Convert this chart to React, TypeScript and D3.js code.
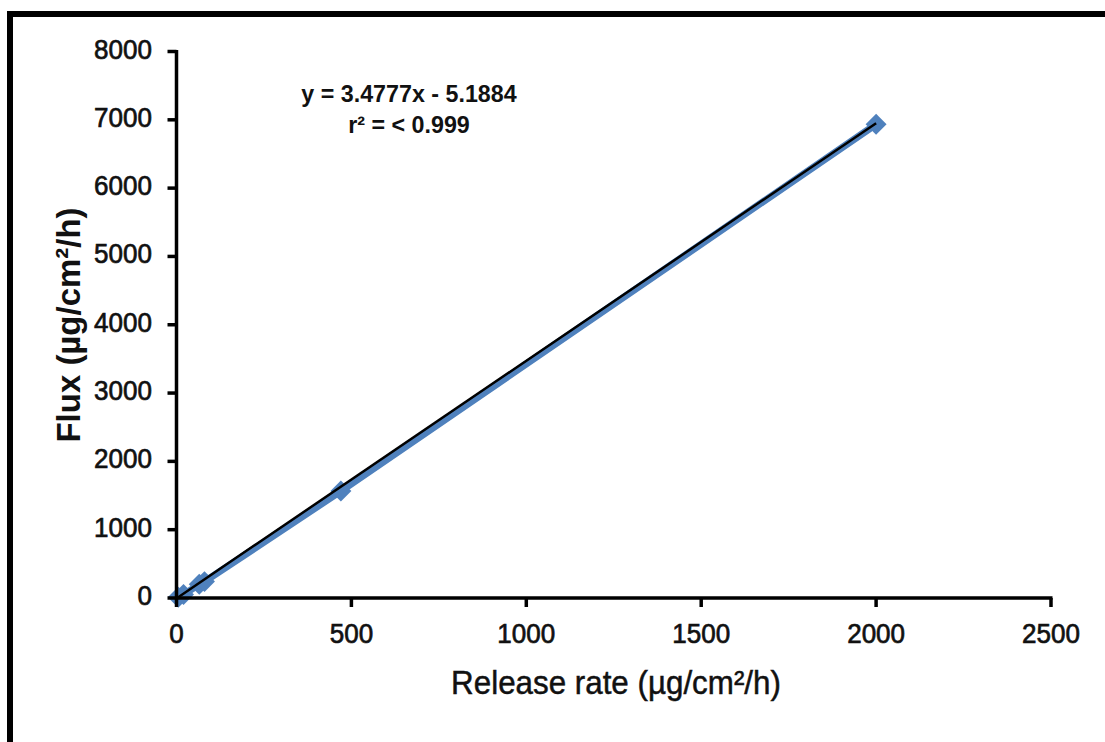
import React from "react";
import * as d3 from "d3";

const releaseRate = [5, 20, 65, 80, 470, 2000];
const flux = [10, 50, 200, 240, 1565, 6935];
const xTicks = [0, 500, 1000, 1500, 2000, 2500];
const yTicks = [0, 1000, 2000, 3000, 4000, 5000, 6000, 7000, 8000];
const slope = 3.4777;
const intercept = -5.1884;
const equationText = "y = 3.4777x - 5.1884";
const r2Text = "r² = < 0.999";
const xTitle = "Release rate (µg/cm²/h)";
const yTitle = "Flux (µg/cm²/h)";

const W = 1105;
const H = 742;
const FONT = "'Liberation Sans', Arial, sans-serif";
const BLUE = "#4F81BD";
const INK = "#111";

export default function App() {
  const x = d3.scaleLinear().domain([0, 2500]).range([176.5, 1051]);
  const y = d3.scaleLinear().domain([0, 8000]).range([598, 51.5]);

  const pts = releaseRate.map((v, i) => [v, flux[i]] as [number, number]);
  const line = d3
    .line<[number, number]>()
    .x((d) => x(d[0]))
    .y((d) => y(d[1]));
  const xMin = d3.min(releaseRate)!;
  const xMax = d3.max(releaseRate)!;
  const trend: [number, number][] = [
    [xMin, slope * xMin + intercept],
    [xMax, slope * xMax + intercept],
  ];
  const diamond = d3.symbol().type(d3.symbolDiamond2).size(280)();

  return (
    <svg
      width={W}
      height={H}
      style={{ position: "absolute", left: 0, top: 0, background: "#fff" }}
    >
      <rect x={0} y={0} width={W} height={H} fill="#fff" />
      {/* frame */}
      <rect x={10} y={14} width={W + 20} height={H + 20} fill="none" stroke="#000" strokeWidth={6} />

      {/* series line */}
      <path d={line(pts)!} fill="none" stroke={BLUE} strokeWidth={7} strokeLinejoin="round" />
      {pts.map((p, i) => (
        <path key={i} d={diamond!} transform={`translate(${x(p[0])},${y(p[1])})`} fill={BLUE} />
      ))}
      {/* trendline */}
      <path d={line(trend)!} fill="none" stroke="#000" strokeWidth={2.5} />

      {/* axes */}
      <line x1={x(0)} x2={x(2500) + 1.5} y1={y(0)} y2={y(0)} stroke="#000" strokeWidth={3.5} />
      <line x1={x(0)} x2={x(0)} y1={y(0) + 1.5} y2={y(8000) - 1.5} stroke="#000" strokeWidth={3.5} />
      {xTicks.map((t) => (
        <g key={"x" + t}>
          <line x1={x(t)} x2={x(t)} y1={y(0)} y2={y(0) + 9} stroke="#000" strokeWidth={3.5} />
          <text
            transform={`translate(${x(t)},643) scale(0.93,1)`}
            textAnchor="middle"
            fontFamily={FONT}
            fontSize={28}
            fill={INK}
            stroke={INK}
            strokeWidth={0.7}
          >
            {t}
          </text>
        </g>
      ))}
      {yTicks.map((t) => (
        <g key={"y" + t}>
          <line x1={x(0) - 9} x2={x(0)} y1={y(t)} y2={y(t)} stroke="#000" strokeWidth={3.5} />
          <text
            transform={`translate(152,${y(t) + 7}) scale(0.93,1)`}
            textAnchor="end"
            fontFamily={FONT}
            fontSize={28}
            fill={INK}
            stroke={INK}
            strokeWidth={0.7}
          >
            {t}
          </text>
        </g>
      ))}

      {/* axis titles */}
      <text
        transform={`translate(616,694) scale(0.95,1)`}
        textAnchor="middle"
        fontFamily={FONT}
        fontSize={33}
        fill={INK}
        stroke={INK}
        strokeWidth={0.5}
      >
        {xTitle}
      </text>
      <text
        transform={`translate(80,325) rotate(-90) scale(0.97,1)`}
        textAnchor="middle"
        fontFamily={FONT}
        fontSize={34}
        fontWeight="bold"
        fill={INK}
      >
        {yTitle}
      </text>

      {/* equation */}
      <text
        transform={`translate(409,102) scale(0.97,1)`}
        textAnchor="middle"
        fontFamily={FONT}
        fontSize={24}
        fontWeight="bold"
        fill={INK}
      >
        {equationText}
      </text>
      <text
        transform={`translate(409,133) scale(0.97,1)`}
        textAnchor="middle"
        fontFamily={FONT}
        fontSize={24}
        fontWeight="bold"
        fill={INK}
      >
        {r2Text}
      </text>
    </svg>
  );
}
